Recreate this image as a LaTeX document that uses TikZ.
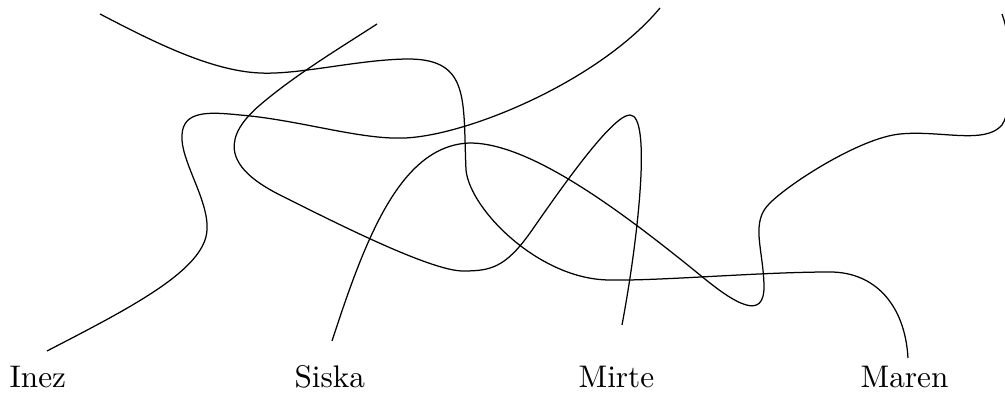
\documentclass[tikz,border=0pt]{standalone}
\begin{document}
\begin{tikzpicture}[x=0.32pt,y=-0.32pt,
  strand/.style={draw=black,line width=0.4pt},
  lbl/.style={anchor=base west,inner sep=0pt,font=\normalsize}]
\clip (0,0) rectangle (1005,394);
\node[lbl] (inez) at (9,388) {Inez};
\node[lbl] (siska) at (294,388) {Siska};
\node[lbl] (mirte) at (578,388) {Mirte};
\node[lbl] (maren) at (860,388) {Maren};
\coordinate (iS) at (47,351);
\coordinate (sS) at (332,341);
\coordinate (mS) at (622,325);
\coordinate (rS) at (908,358);
\coordinate (iE) at (660,8);
\coordinate (sE) at (1002,14);
\coordinate (mE) at (377,24);
\coordinate (rE) at (100,14);
% Inez
\draw[strand] (iS) .. controls (130,308) and (205,270) .. (207,230)
  .. controls (209,200) and (180,160) .. (182,135)
  .. controls (183,110) and (210,112) .. (240,115)
  .. controls (300,120) and (360,140) .. (405,138)
  .. controls (470,135) and (600,80) .. (iE);
% Siska
\draw[strand] (sS) .. controls (365,240) and (400,145) .. (470,143)
  .. controls (530,143) and (620,210) .. (700,275)
  .. controls (735,304) and (765,322) .. (764,285)
  .. controls (763,248) and (750,222) .. (770,203)
  .. controls (790,183) and (860,138) .. (900,134)
  .. controls (940,130) and (985,145) .. (1002,125)
  .. controls (1015,105) and (1012,40) .. (sE);
% Mirte
\draw[strand] (mS) .. controls (638,240) and (652,115) .. (630,115)
  .. controls (612,115) and (560,190) .. (530,233)
  .. controls (505,268) and (490,271) .. (463,271)
  .. controls (430,271) and (330,220) .. (280,195)
  .. controls (220,165) and (225,135) .. (260,105)
  .. controls (295,75) and (340,48) .. (mE);
% Maren
\draw[strand] (rS) .. controls (905,305) and (875,272) .. (830,272)
  .. controls (760,272) and (660,281) .. (610,280)
  .. controls (540,280) and (470,210) .. (466,170)
  .. controls (463,100) and (470,60) .. (410,59)
  .. controls (360,59) and (300,75) .. (260,73)
  .. controls (210,71) and (150,40) .. (rE);
\end{tikzpicture}
\end{document}
